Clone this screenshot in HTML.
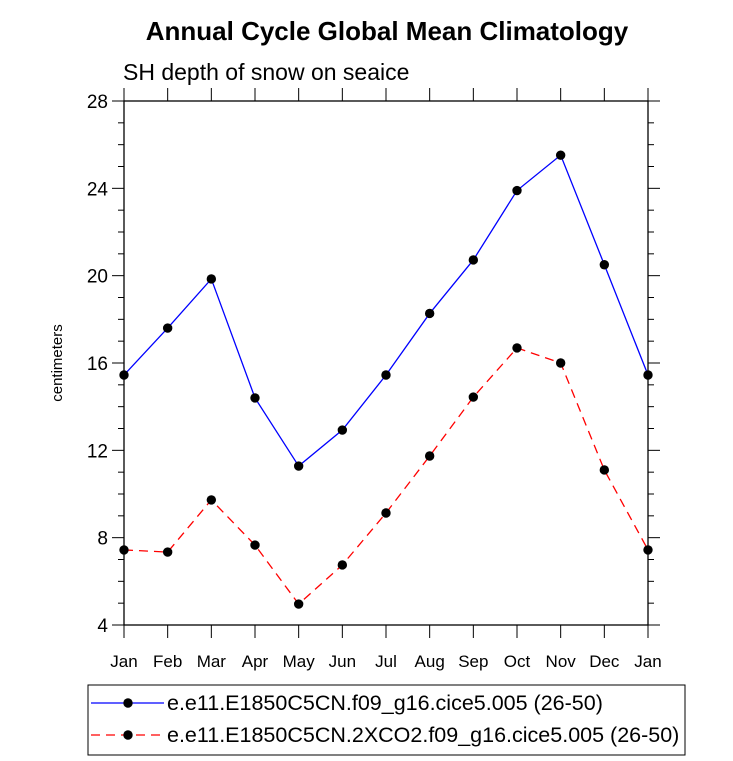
<!DOCTYPE html>
<html><head><meta charset="utf-8"><style>body{margin:0;background:#fff}svg{display:block;font-family:"Liberation Sans",Arial,sans-serif}</style></head>
<body>
<svg id="c" width="733" height="761" viewBox="0 0 733 761">
<text x="387" y="40" text-anchor="middle" font-size="26" font-weight="bold">Annual Cycle Global Mean Climatology</text>
<text x="123" y="80" font-size="23">SH depth of snow on seaice</text>
<text transform="translate(62,363) rotate(-90)" text-anchor="middle" font-size="15">centimeters</text>
<g id="axes"></g>
<g id="series"></g>
<rect x="88" y="685" width="597" height="70" fill="none" stroke="#000" stroke-width="1"/>
<g>
<line x1="91" y1="703" x2="164" y2="703" stroke="#0000ff" stroke-width="1.3"/>
<circle cx="128" cy="703" r="4.7" fill="#000"/>
<text x="167" y="710" font-size="21.5">e.e11.E1850C5CN.f09_g16.cice5.005 (26-50)</text>
</g>
<g>
<line x1="91" y1="735" x2="164" y2="735" stroke="#ff0000" stroke-width="1.3" stroke-dasharray="9,6"/>
<circle cx="128" cy="735" r="4.7" fill="#000"/>
<text x="167" y="742" font-size="21.5">e.e11.E1850C5CN.2XCO2.f09_g16.cice5.005 (26-50)</text>
</g>
</svg>
<script>
const months=["Jan","Feb","Mar","Apr","May","Jun","Jul","Aug","Sep","Oct","Nov","Dec","Jan"];
const controlVals=[15.45,17.6,19.85,14.4,11.28,12.93,15.45,18.27,20.72,23.9,25.52,20.5,15.45];
const co2Vals=[7.44,7.34,9.73,7.66,4.96,6.75,9.13,11.74,14.44,16.69,16.0,11.1,7.44];
const yTicks=[4,8,12,16,20,24,28];
const L=124,R=648,T=101,B=625,yMin=4,yMax=28;
const xs=i=>L+(R-L)*i/(months.length-1);
const ys=v=>B-(B-T)*(v-yMin)/(yMax-yMin);
const NS="http://www.w3.org/2000/svg";
function mk(t,a,p){const e=document.createElementNS(NS,t);for(const k in a)e.setAttribute(k,a[k]);p.appendChild(e);return e;}
const ax=document.getElementById('axes');
const frame=mk('rect',{x:L,y:T,width:R-L,height:B-T,fill:'none',stroke:'#000','stroke-width':1.3},ax);


for(let v=yMin;v<=yMax;v++){const y=ys(v);const maj=v%4===0;const len=maj?12:6;
mk('line',{x1:L-len,y1:y,x2:L,y2:y,stroke:'#000','stroke-width':1},ax);
mk('line',{x1:R,y1:y,x2:R+len,y2:y,stroke:'#000','stroke-width':1},ax);}
yTicks.forEach(v=>{const t=mk('text',{x:L-16,y:ys(v)+7,'text-anchor':'end','font-size':19},ax);t.textContent=v;

});
months.forEach((m,i)=>{const x=xs(i);
mk('line',{x1:x,y1:B,x2:x,y2:B+13,stroke:'#000','stroke-width':1},ax);
mk('line',{x1:x,y1:T-13,x2:x,y2:T,stroke:'#000','stroke-width':1},ax);
const t=mk('text',{x:x,y:B+42,'text-anchor':'middle','font-size':17},ax);t.textContent=m;

});
const sg=document.getElementById('series');
function series(vals,color,dash,name){const g=mk('g',{},sg);


mk('polyline',{points:vals.map((v,i)=>xs(i)+','+ys(v)).join(' '),fill:'none',stroke:color,'stroke-width':1.3,'stroke-dasharray':dash},g);
vals.forEach((v,i)=>{const c=mk('circle',{cx:xs(i),cy:ys(v),r:4.7,fill:'#000'},g);

});}
series(controlVals,'#0000ff','none','control-series');
series(co2Vals,'#ff0000','9,6','2xco2-series');
</script>
</body></html>
